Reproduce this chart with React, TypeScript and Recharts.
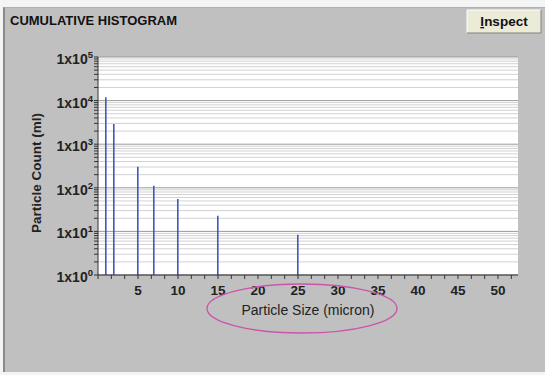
import React from 'react';
import { ComposedChart, Bar, XAxis, YAxis, CartesianGrid } from 'recharts';

const sizes = [1, 2, 5, 7, 10, 15, 25];
const counts = [12000, 2900, 305, 112, 55, 23, 8.4];

const decadeTicks = [1, 10, 100, 1000, 10000, 100000];
const minorMultipliers = [2, 3, 4, 5, 6, 7, 8, 9];
const xTickCount = 32;
const xLabelStep = 5;

const FONT = '"Liberation Sans", Arial, sans-serif';

const data = sizes.map((s, i) => ({ size: s, count: counts[i] }));
const minorTicks: number[] = [];
decadeTicks.slice(0, -1).forEach((d) => minorMultipliers.forEach((m) => minorTicks.push(d * m)));
const yTicks = [...decadeTicks, ...minorTicks].sort((a, b) => a - b);
const xTicks = Array.from({ length: xTickCount }, (_, i) => (i * 5) / 3);

const YTick = (props: any) => {
  const { x, y, payload } = props;
  const v = payload.value;
  const exp = Math.round(Math.log10(v));
  if (Math.abs(Math.pow(10, exp) - v) > 1e-6) return <g />;
  return (
    <text x={x} y={y + 7} textAnchor="end" fontFamily={FONT} fontWeight="bold" fontSize={14} fill="#222">
      <tspan>1x10</tspan>
      <tspan dy={-6} fontSize={9.5}>{exp}</tspan>
    </text>
  );
};

const XTick = (props: any) => {
  const { x, y, payload } = props;
  const v = payload.value;
  const r = v / xLabelStep;
  if (v === 0 || Math.abs(r - Math.round(r)) > 1e-6) return <g />;
  return (
    <text x={x} y={y + 14} textAnchor="middle" fontFamily={FONT} fontWeight="bold" fontSize={13.5} fill="#222">
      {Math.round(v)}
    </text>
  );
};

export default function App() {
  return (
    <div style={{ position: 'absolute', left: 0, top: 0, width: 545, height: 375, background: '#f4f4f4', overflow: 'hidden' }}>
      <div
        style={{
          position: 'absolute',
          left: 3,
          top: 7,
          width: 542,
          height: 365,
          background: '#c0c0c0',
          borderLeft: '2px solid #8a8a8a',
          borderTop: '1px solid #b0b0b0',
          boxSizing: 'border-box',
        }}
      />
      <svg width={545} height={375} style={{ position: 'absolute', left: 0, top: 0 }}>
        <text x={10} y={25} fontFamily={FONT} fontWeight="bold" fontSize={13} fill="#111">
          CUMULATIVE HISTOGRAM
        </text>
        <rect x={467} y={10} width={74} height={23} fill="#ecebd8" />
        <polyline points="467,33 467,10 541,10" fill="none" stroke="#ffffff" strokeWidth={1} />
        <polyline points="467,33 541,33 541,10" fill="none" stroke="#808080" strokeWidth={1} />
        <text x={504} y={26} textAnchor="middle" fontFamily={FONT} fontWeight="bold" fontSize={13.5} fill="#111">
          <tspan textDecoration="underline">I</tspan>
          <tspan>nspect</tspan>
        </text>
      </svg>
      <div style={{ position: 'absolute', left: 0, top: 0 }}>
        <ComposedChart width={545} height={375} data={data} margin={{ top: 57, right: 27, bottom: 70, left: 38 }}>
          <CartesianGrid fill="#ffffff" vertical={false} horizontalValues={minorTicks} stroke="#d2d2d2" />
          <CartesianGrid vertical={false} horizontalValues={decadeTicks} stroke="#9a9a9a" />
          <XAxis
            dataKey="size"
            type="number"
            domain={[0, 52.5]}
            ticks={xTicks}
            interval={0}
            allowDataOverflow
            tick={<XTick />}
            tickSize={4}
            height={30}
            stroke="#333"
            label={{
              content: (p: any) => {
                const vb = p.viewBox;
                return (
                  <text x={vb.x + vb.width / 2} y={vb.y + 40} textAnchor="middle" fontFamily={FONT} fontSize={14} fill="#222">
                    Particle Size (micron)
                  </text>
                );
              },
            }}
          />
          <YAxis
            scale="log"
            domain={[1, 100000]}
            ticks={yTicks}
            interval={0}
            allowDataOverflow
            tick={<YTick />}
            tickSize={4}
            tickMargin={1}
            width={60}
            stroke="#333"
            label={{
              content: (p: any) => {
                const vb = p.viewBox;
                const cx = vb.x + 3;
                const cy = vb.y + vb.height / 2 + 7;
                return (
                  <text
                    x={cx}
                    y={cy}
                    transform={`rotate(-90, ${cx}, ${cy})`}
                    textAnchor="middle"
                    fontFamily={FONT}
                    fontWeight="bold"
                    fontSize={13.5}
                    fill="#222"
                  >
                    Particle Count (ml)
                  </text>
                );
              },
            }}
          />
          <Bar dataKey="count" fill="#4058bc" barSize={1.6} isAnimationActive={false} />
        </ComposedChart>
      </div>
      <svg width={545} height={375} style={{ position: 'absolute', left: 0, top: 0, pointerEvents: 'none' }}>
        <ellipse cx={302} cy={308.5} rx={95} ry={24.5} fill="none" stroke="#cc55aa" strokeWidth={1.4} />
      </svg>
    </div>
  );
}
